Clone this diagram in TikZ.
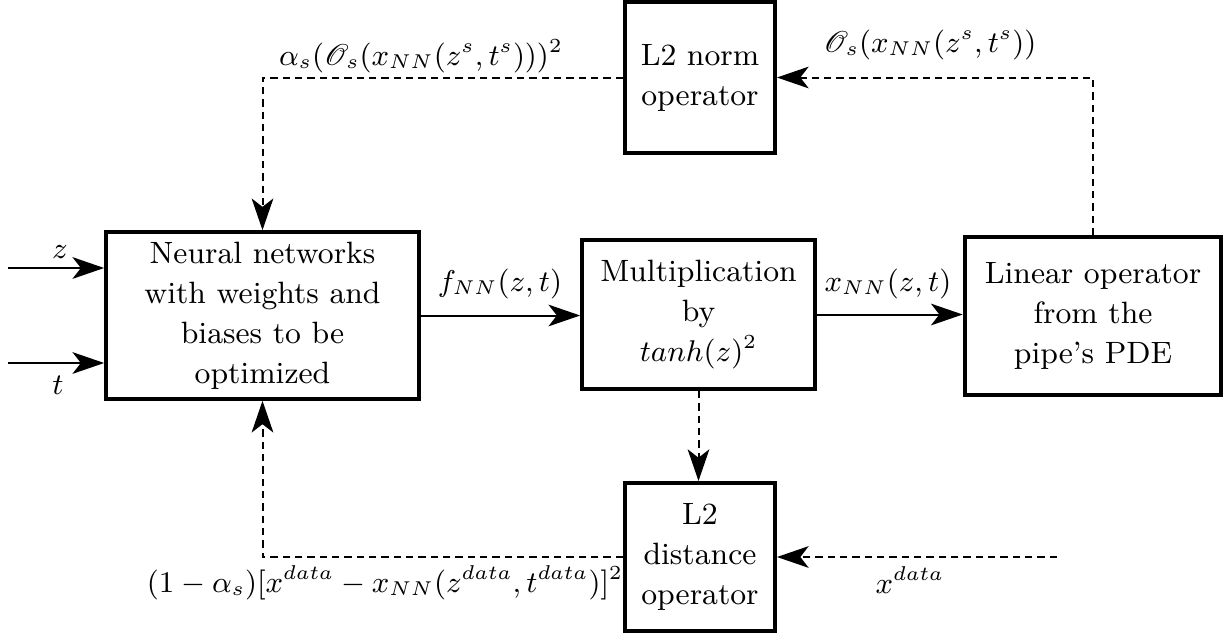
\documentclass[tikz,border=0pt]{standalone}
\usepackage{mathrsfs}
\usetikzlibrary{arrows.meta}
\begin{document}
\begin{tikzpicture}[x=0.3pt,y=-0.3pt,
  block/.style={draw, line width=1.2pt, align=center, inner sep=0pt,
    font=\fontsize{9.25}{12}\selectfont},
  flow/.style={-{Stealth[length=9.5pt,width=6.5pt,inset=2.5pt]}, line width=0.6pt},
  fback/.style={flow, dash pattern=on 2.2pt off 1.5pt, line width=0.6pt},
  lbl/.style={inner sep=0pt, font=\fontsize{8.9}{11}\selectfont},
]
\useasboundingbox (0,0) rectangle (1226,636);

% blocks
\node[block, minimum width=93.8pt, minimum height=50pt] (nn) at (262.5,315.5)
  {Neural networks\\with weights and\\biases to be\\optimized};
\node[block, minimum width=69.8pt, minimum height=44.7pt] (mult) at (698.5,314.5)
  {Multiplication\\by\\$tanh(z)^2$};
\node[block, minimum width=77pt, minimum height=47.3pt] (lin) at (1093,316)
  {Linear operator\\from the\\pipe's PDE};
\node[block, minimum width=45pt, minimum height=45.3pt] (norm) at (700,77.5)
  {L2 norm\\operator};
\node[block, minimum width=45pt, minimum height=44.4pt] (dist) at (700,557)
  {L2\\distance\\operator};

% inputs
\coordinate (zs) at (8,268);
\coordinate (ts) at (8,363);
\coordinate (xd) at (1057,557);
\draw[flow] (zs) -- (zs -| nn.west);
\draw[flow] (ts) -- (ts -| nn.west);

% forward path
\draw[flow] (nn.east) -- (nn.east -| mult.west);
\draw[flow] (mult.east) -- (mult.east -| lin.west);

% loss feedback paths
\draw[fback] (lin.north) |- (norm.east);
\draw[fback] (norm.west) -| (nn.north);
\draw[fback] (mult.south) -- (mult.south |- dist.north);
\draw[fback] (dist.west) -| (nn.south);
\draw[fback] (xd) -- (dist.east);

% labels
\node[lbl] (lz) at (60,252) {$z$};
\node[lbl] (lt) at (58,385) {$t$};
\node[lbl] (lf) at (500,284) {$f_{NN}(z,t)$};
\node[lbl] (lx) at (888,284) {$x_{NN}(z,t)$};
\node[lbl] (la) at (421,56) {$\alpha_s(\mathscr{O}_s(x_{NN}(z^s,t^s)))^2$};
\node[lbl] (lo) at (930,45) {$\mathscr{O}_s(x_{NN}(z^s,t^s))$};
\node[lbl] (lb) at (385,583) {$(1-\alpha_s)[x^{data}-x_{NN}(z^{data},t^{data})]^2$};
\node[lbl] (ld) at (910,580) {$x^{data}$};
\end{tikzpicture}
\end{document}
